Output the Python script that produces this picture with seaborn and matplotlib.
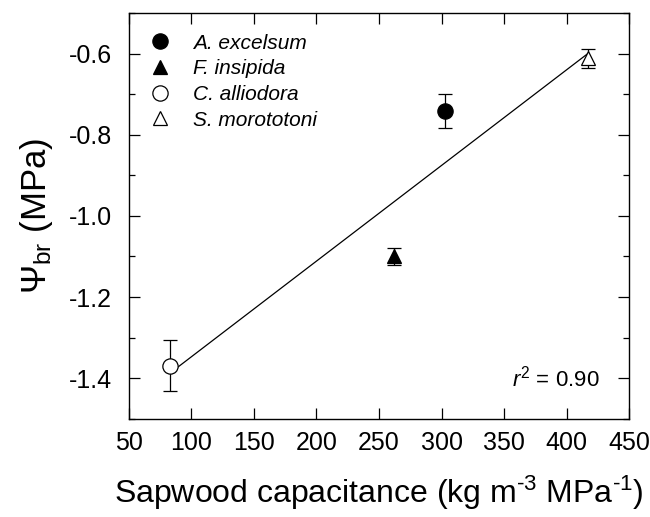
import numpy as np
import pandas as pd
import matplotlib.pyplot as plt
import seaborn as sns

species = ["A. excelsum", "F. insipida", "C. alliodora", "S. morototoni"]
capacitance = [302.5, 262, 83, 417]
psi_br = [-0.742, -1.100, -1.369, -0.612]
psi_err = [0.042, 0.021, 0.063, 0.024]
markers = ["o", "^", "o", "^"]
filled = [True, True, False, False]

df = pd.DataFrame({"species": species, "cap": capacitance, "psi": psi_br, "err": psi_err})

sns.set_style("ticks")
plt.rcParams["font.family"] = ["Liberation Sans", "DejaVu Sans"]
plt.rcParams["mathtext.fontset"] = "custom"
plt.rcParams["mathtext.rm"] = "Liberation Sans"
plt.rcParams["mathtext.it"] = "Liberation Sans:italic"
plt.rcParams["text.color"] = "black"
plt.rcParams["axes.labelcolor"] = "black"

fig = plt.figure(figsize=(6.5, 5.17), dpi=100)
ax = fig.add_axes([0.198, 0.19, 0.77, 0.785])

# regression line, only across the data range
sns.regplot(data=df, x="cap", y="psi", scatter=False, ci=None, truncate=True,
            line_kws={"color": "black", "lw": 0.9}, ax=ax)

for i, row in df.iterrows():
    ax.errorbar(row["cap"], row["psi"], yerr=row["err"], fmt=markers[i],
                ms=11 if markers[i] == "o" else 10,
                mfc="black" if filled[i] else "white", mec="black", mew=0.9,
                ecolor="black", elinewidth=0.9, capsize=5, capthick=0.9,
                label=row["species"], zorder=3)

r = np.corrcoef(df["cap"], df["psi"])[0, 1]
ax.text(0.853, 0.1, f"$r^2$ = {r**2:.2f}", transform=ax.transAxes,
        ha="center", va="center", fontsize=16)

ax.set_xlim(50, 450)
ax.set_ylim(-1.5, -0.5)
ax.set_xticks(np.arange(50, 451, 50))
ax.set_yticks([-1.4, -1.2, -1.0, -0.8, -0.6])
ax.set_yticks(np.arange(-1.5, -0.45, 0.1), minor=True)
ax.set_yticklabels(["-1.4", "-1.2", "-1.0", "-0.8", "-0.6"])
ax.tick_params(which="both", direction="in", top=True, right=True,
               labelsize=18, width=0.9, colors="black")
ax.tick_params(axis="y", pad=12)
ax.tick_params(axis="x", pad=9)
ax.tick_params(which="major", length=8)
ax.tick_params(which="minor", length=4)
for s in ax.spines.values():
    s.set_linewidth(1.0)
    s.set_color("black")

ax.set_xlabel(r"Sapwood capacitance (kg m$^{\text{-3}}$ MPa$^{\text{-1}}$)",
              fontsize=23, labelpad=13)
ax.set_ylabel(r"$\Psi_{\mathrm{br}}$ (MPa)", fontsize=25, labelpad=10)

handles, labels = ax.get_legend_handles_labels()
handles = [h[0] for h in handles]
leg = ax.legend(handles, labels, loc="upper left", bbox_to_anchor=(0.0, 0.995),
                frameon=False, handletextpad=1.0, labelspacing=0.32,
                handlelength=1.2, prop={"style": "italic", "size": 15})

fig.savefig("out.png", dpi=100)
